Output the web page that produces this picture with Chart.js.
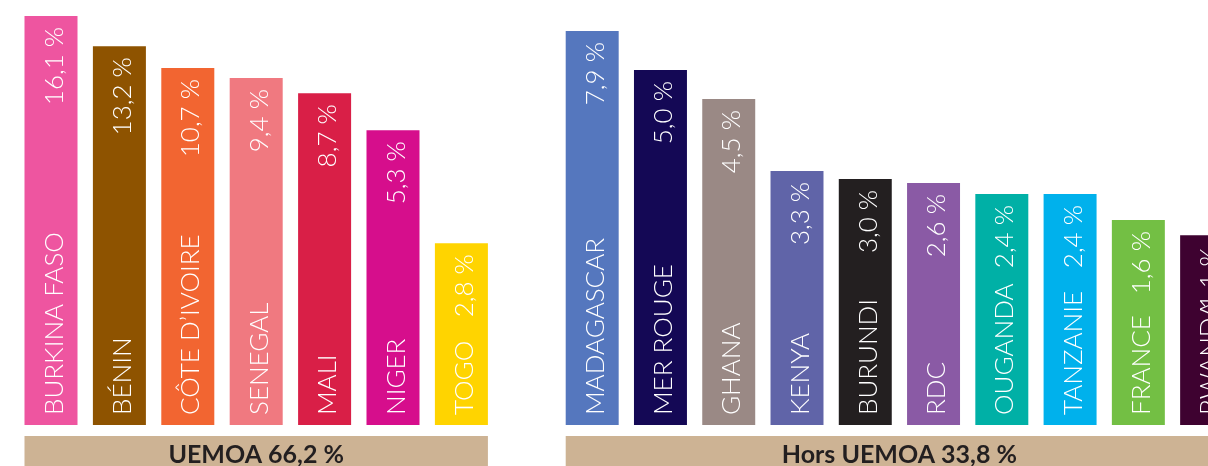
<!DOCTYPE html>
<html lang="fr">
<head>
<meta charset="utf-8">
<title>Répartition UEMOA / Hors UEMOA</title>
<script src="https://cdn.jsdelivr.net/npm/chart.js@4.4.1/dist/chart.umd.min.js"></script>
<style>
    html, body { margin: 0; padding: 0; background: #ffffff; overflow: hidden; }
    body { width: 1208px; height: 466px; position: relative; }
    .group { position: absolute; top: 0; height: 466px; }
    #groupLeft { left: 0; width: 512px; }
    #groupRight { left: 541px; width: 717px; }
</style>
</head>
<body>
<div class="group" id="groupLeft"><canvas id="chartLeft"></canvas></div>
<div class="group" id="groupRight"><canvas id="chartRight"></canvas></div>

<script>
// ============ DATA ============

// UEMOA
const uemoaCountries = ['BURKINA FASO', 'BÉNIN', 'CÔTE D\u2019IVOIRE', 'SENEGAL', 'MALI', 'NIGER', 'TOGO'];
const uemoaShares = ['16,1 %', '13,2 %', '10,7 %', '9,4 %', '8,7 %', '5,3 %', '2,8 %'];
// drawn bar level (0-100) (the bars are not proportional to the shares)
const uemoaLevels = [97.4, 90.2, 85.0, 82.6, 79.0, 70.2, 43.3];
const uemoaColors = ['#EE55A0', '#8E5300', '#F26531', '#F07980', '#D91F47', '#D60E8C', '#FFD400'];
const uemoaTitle = 'UEMOA 66,2 %';

// Hors UEMOA
const horsCountries = ['MADAGASCAR', 'MER ROUGE', 'GHANA', 'KENYA', 'BURUNDI', 'RDC', 'OUGANDA', 'TANZANIE', 'FRANCE', 'RWANDA'];
const horsShares = ['7,9 %', '5,0 %', '4,5 %', '3,3 %', '3,0 %', '2,6 %', '2,4 %', '2,4 %', '1,6 %', '1,1 %'];
const horsLevels = [93.8, 84.5, 77.6, 60.5, 58.6, 57.6, 55.0, 55.0, 48.8, 45.2];
const horsColors = ['#5577BE', '#140855', '#9A8985', '#6064A8', '#231F20', '#8A5AA5', '#00B0A6', '#00B1EC', '#73BF44', '#3E0230'];
const horsTitle = 'Hors UEMOA 33,8 %';

// ============ PLUGINS ============

const LABEL_FONT = '300 26px Lato, "Open Sans", sans-serif';
const BAND_FONT = 'bold 25px Lato, "Open Sans", sans-serif';
const BAND_COLOR = '#CDB394';

// country name at the bottom, share at the top, both rotated
const barLabels = {
    id: 'barLabels',
    afterDatasetsDraw(chart, args, opts) {
        const ctx = chart.ctx;
        const meta = chart.getDatasetMeta(0);
        meta.data.forEach((bar, i) => {
            const h = bar.base - bar.y;
            ctx.save();
            ctx.translate(bar.x + 11.5, bar.base);
            ctx.rotate(-Math.PI / 2);
            ctx.font = LABEL_FONT;
            ctx.fillStyle = '#ffffff';
            ctx.textBaseline = 'alphabetic';
            ctx.textAlign = 'left';
            ctx.fillText(chart.data.labels[i], 10, 0);
            ctx.textAlign = 'right';
            ctx.fillText(opts.shares[i], h - 11, 0);
            ctx.restore();
        });
    }
};

// beige band with the group total under the bars
const groupBand = {
    id: 'groupBand',
    afterDraw(chart, args, opts) {
        const ctx = chart.ctx;
        const bars = chart.getDatasetMeta(0).data;
        const first = bars[0];
        const last = bars[bars.length - 1];
        const x0 = first.x - first.width / 2;
        const x1 = last.x + last.width / 2;
        const top = chart.chartArea.bottom + 11;
        ctx.save();
        ctx.fillStyle = BAND_COLOR;
        ctx.fillRect(x0, top, x1 - x0, chart.height - top);
        ctx.font = BAND_FONT;
        ctx.fillStyle = '#231F20';
        ctx.textAlign = 'center';
        ctx.textBaseline = 'alphabetic';
        ctx.fillText(opts.title, (x0 + x1) / 2, top + 27);
        ctx.restore();
    }
};

// ============ CHARTS ============

function makeChart(canvasId, labels, shares, levels, colors, title, padding, barPct) {
    const ctx = document.getElementById(canvasId).getContext('2d');
    return new Chart(ctx, {
        type: 'bar',
        data: {
            labels: labels,
            datasets: [{
                data: levels,
                backgroundColor: colors,
                borderWidth: 0,
                barPercentage: barPct,
                categoryPercentage: 1
            }]
        },
        options: {
            responsive: true,
            maintainAspectRatio: false,
            animation: false,
            layout: { padding: padding },
            scales: {
                x: { display: false },
                y: { display: false, min: 0, max: 100 }
            },
            plugins: {
                legend: { display: false },
                tooltip: { enabled: false },
                barLabels: { shares: shares },
                groupBand: { title: title }
            }
        },
        plugins: [barLabels, groupBand]
    });
}

window.addEventListener('DOMContentLoaded', () => {
    makeChart('chartLeft', uemoaCountries, uemoaShares, uemoaLevels, uemoaColors, uemoaTitle,
        { left: 16.8, right: 16.4, top: 5, bottom: 41 }, 0.775);
    makeChart('chartRight', horsCountries, horsShares, horsLevels, horsColors, horsTitle,
        { left: 17.06, right: 17.24, top: 5, bottom: 41 }, 0.776);
});
</script>
</body>
</html>
